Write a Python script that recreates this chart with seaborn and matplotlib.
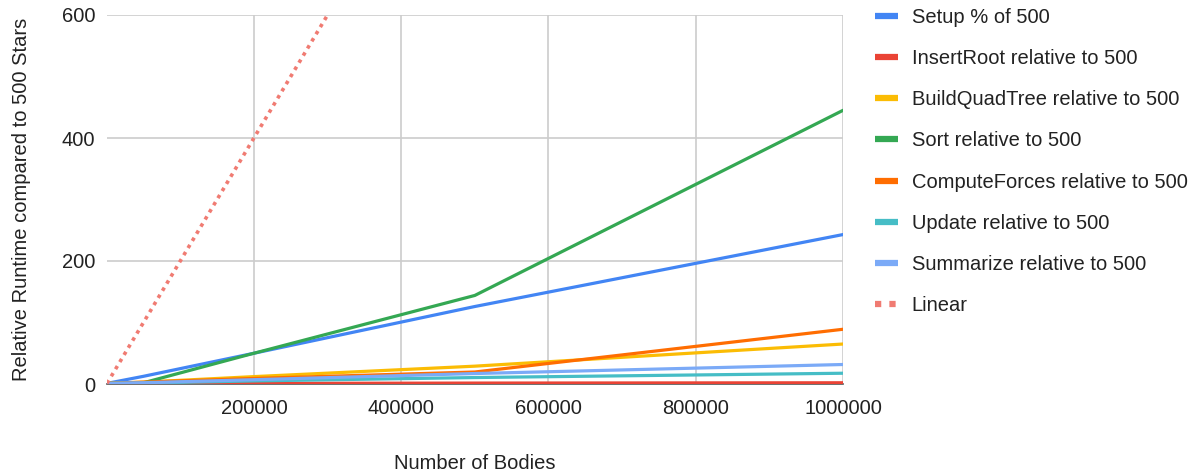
import matplotlib
matplotlib.use("Agg")
import matplotlib.pyplot as plt
import seaborn as sns
import pandas as pd

# Number of bodies simulated
bodies = [500, 50000, 200000, 500000, 1000000]

# Runtime of each phase relative to the 500-body run
setup = [1, 12.5, 50, 126, 243]
insert_root = [1, 1, 1, 1.5, 2]
build_quadtree = [1, 3, 12, 29, 65]
sort_phase = [1, 2, 50, 144, 445]
compute_forces = [1, 3, 9, 19.5, 89]
update = [1, 1.5, 5, 10.5, 17.5]
summarize = [1, 2, 7, 17, 31.7]
linear = [1, 100, 400, 1000, 2000]

series_names = [
    "Setup % of 500",
    "InsertRoot relative to 500",
    "BuildQuadTree relative to 500",
    "Sort relative to 500",
    "ComputeForces relative to 500",
    "Update relative to 500",
    "Summarize relative to 500",
    "Linear",
]
series_values = [setup, insert_root, build_quadtree, sort_phase,
                 compute_forces, update, summarize, linear]
colors = ["#4285F4", "#EA4335", "#FBBC04", "#34A853",
          "#FF6D01", "#46BDC6", "#7BAAF7", "#F07B72"]

x_ticks = [200000, 400000, 600000, 800000, 1000000]
y_ticks = [0, 200, 400, 600]

FS = 14.5

sns.set_theme(style="white")
plt.rcParams["font.family"] = ["Liberation Sans", "DejaVu Sans"]

fig = plt.figure(figsize=(12, 4.74), dpi=100)
ax = fig.add_axes([107 / 1200, 1 - 384 / 474, (843 - 107) / 1200, (384 - 15) / 474])

for name, vals, col in zip(series_names, series_values, colors):
    df = pd.DataFrame({"bodies": bodies, "value": vals})
    if name == "Linear":
        sns.lineplot(data=df, x="bodies", y="value", ax=ax, color=col,
                     linewidth=2.6, linestyle=(0, (1, 1.3)), label=name,
                     zorder=5)
    else:
        sns.lineplot(data=df, x="bodies", y="value", ax=ax, color=col,
                     linewidth=2.3, label=name, zorder=3)

ax.set_xlim(500, 1000000)
ax.set_ylim(0, 600)
ax.set_xticks(x_ticks)
ax.set_xticklabels([str(t) for t in x_ticks])
ax.set_yticks(y_ticks)
ax.grid(True, color="#cccccc", linewidth=1.2)
ax.set_axisbelow(True)
for side in ["top", "right", "left"]:
    ax.spines[side].set_visible(False)
ax.spines["bottom"].set_color("#555555")
ax.spines["bottom"].set_linewidth(1.2)
ax.spines["bottom"].set_zorder(2)
ax.tick_params(axis="x", length=0, pad=11, labelsize=FS, labelcolor="#222222")
ax.tick_params(axis="y", length=0, pad=8.5, labelsize=FS, labelcolor="#222222")

ax.set_xlabel("Number of Bodies", fontsize=FS, color="#222222", labelpad=26)
ax.set_ylabel("Relative Runtime compared to 500 Stars", fontsize=FS,
              color="#222222", labelpad=22)

handles, labels = ax.get_legend_handles_labels()
ax.get_legend().remove()
leg = fig.legend(handles, labels, loc="upper left",
                 bbox_to_anchor=(875 / 1200, 1 - 8 / 474),
                 frameon=False, fontsize=FS, handlelength=1.15,
                 handletextpad=0.68, labelspacing=1.1, borderaxespad=0,
                 borderpad=0)
for t in leg.get_texts():
    t.set_color("#222222")
for h in leg.get_lines():
    h.set_linewidth(4.5)
    h.set_solid_capstyle("butt")
    h.set_dash_capstyle("butt")

fig.savefig("out.png", dpi=100)
